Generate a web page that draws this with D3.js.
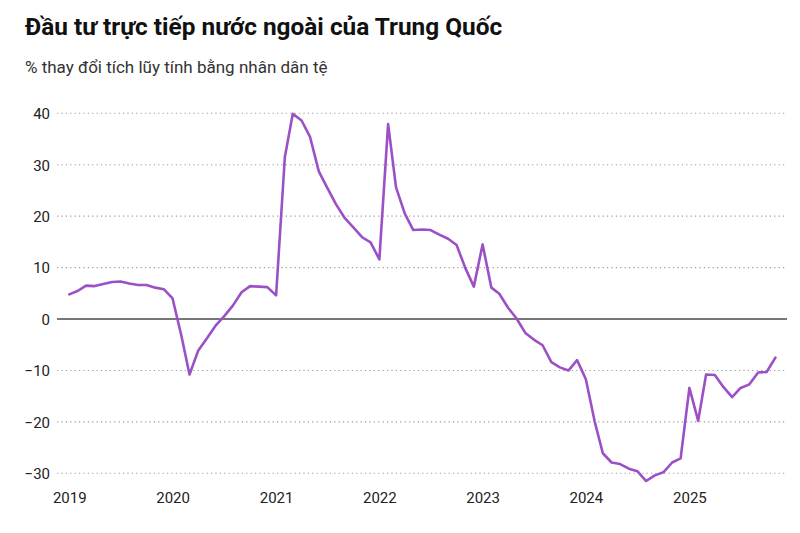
<!DOCTYPE html>
<html>
<head>
<meta charset="utf-8">
<script src="https://cdn.jsdelivr.net/npm/d3@7"></script>
<style>
  html, body { margin: 0; padding: 0; background: #fff; }
  svg { display: block; font-family: Roboto, "Noto Sans", sans-serif; }
</style>
</head>
<body>
<svg id="chart" width="800" height="533"></svg>
<script>
// ---- Data (cumulative YoY % change, RMB) ----
const startMonth = "2019-01-01";
const values2019 = [4.8, 5.5, 6.5, 6.4, 6.8, 7.2, 7.3, 6.9, 6.6, 6.6, 6.1, 5.8];
const values2020 = [4.0, -3.2, -10.8, -6.1, -3.8, -1.3, 0.5, 2.6, 5.2, 6.4, 6.3, 6.2];
const values2021 = [4.6, 31.5, 39.9, 38.6, 35.4, 28.7, 25.5, 22.3, 19.6, 17.8, 15.9, 14.9];
const values2022 = [11.6, 37.9, 25.6, 20.5, 17.3, 17.4, 17.3, 16.4, 15.6, 14.4, 9.9, 6.3];
const values2023 = [14.5, 6.1, 4.9, 2.2, 0.1, -2.7, -4.0, -5.1, -8.4, -9.4, -10.0, -8.0];
const values2024 = [-11.7, -19.9, -26.1, -27.9, -28.2, -29.1, -29.6, -31.5, -30.4, -29.8, -27.9, -27.1];
const values2025 = [-13.4, -19.8, -10.8, -10.9, -13.2, -15.2, -13.4, -12.7, -10.4, -10.3, -7.5];
const yTickValues = [-30, -20, -10, 0, 10, 20, 30, 40];
const xTickLabels = ["2019", "2020", "2021", "2022", "2023", "2024", "2025"];
const titleText = "Đầu tư trực tiếp nước ngoài của Trung Quốc";
const subtitleText = "% thay đổi tích lũy tính bằng nhân dân tệ";

// ---- Build series ----
const allValues = [].concat(values2019, values2020, values2021, values2022, values2023, values2024, values2025);
const start = new Date(startMonth + "T00:00:00Z");
const data = allValues.map((v, i) => ({ date: d3.utcMonth.offset(start, i), value: v }));

const svg = d3.select("#chart");
const W = 800, H = 533;
svg.append("rect").attr("width", W).attr("height", H).attr("fill", "#fff");

const gridLeft = 57, gridRight = 787;
const x = d3.scaleUtc()
  .domain([data[0].date, data[data.length - 1].date])
  .range([69.3, 775.4]);
const y = d3.scaleLinear().domain([-30, 40]).range([473.3, 113.3]);

// Title & subtitle
svg.append("text").attr("x", 25).attr("y", 35)
  .attr("font-size", 24.4).attr("font-weight", 700).attr("fill", "#111")
  .text(titleText);
svg.append("text").attr("x", 25).attr("y", 73)
  .attr("font-size", 17).attr("fill", "#333")
  .text(subtitleText);

// Grid lines
const grid = svg.append("g");
grid.selectAll("line.grid")
  .data(yTickValues.filter(d => d !== 0))
  .join("line")
  .attr("class", "grid")
  .attr("x1", gridLeft).attr("x2", gridRight)
  .attr("y1", d => y(d)).attr("y2", d => y(d))
  .attr("stroke", "#9a9a9a").attr("stroke-width", 1.1)
  .attr("stroke-dasharray", "1.2,3.2");

// Zero line
svg.append("line")
  .attr("x1", gridLeft).attr("x2", gridRight)
  .attr("y1", y(0)).attr("y2", y(0))
  .attr("stroke", "#777").attr("stroke-width", 1.8);

// Y axis labels
const yAxis = d3.axisLeft(y).tickValues(yTickValues).tickSize(0).tickPadding(0)
  .tickFormat(d => d < 0 ? "\u2212" + Math.abs(d) : String(d));
const yG = svg.append("g").attr("transform", "translate(50,0)").call(yAxis);
yG.select(".domain").remove();
yG.selectAll("text").attr("font-size", 15).attr("fill", "#222")
  .attr("font-family", "Roboto, sans-serif").attr("dy", "0.36em");

// X axis labels
const xTicks = xTickLabels.map(s => new Date(s + "-01-01T00:00:00Z"));
const xAxis = d3.axisBottom(x).tickValues(xTicks).tickSize(0).tickPadding(0)
  .tickFormat((d, i) => xTickLabels[i]);
const xG = svg.append("g").attr("transform", "translate(0,492)").call(xAxis);
xG.select(".domain").remove();
xG.selectAll("text").attr("font-size", 15).attr("fill", "#222")
  .attr("font-family", "Roboto, sans-serif").attr("dy", "0.75em");

// Line
const line = d3.line().x(d => x(d.date)).y(d => y(d.value));
svg.append("path").datum(data)
  .attr("d", line)
  .attr("fill", "none")
  .attr("stroke", "#9b50c6")
  .attr("stroke-width", 2.6)
  .attr("stroke-linejoin", "round")
  .attr("stroke-linecap", "round");
</script>
</body>
</html>
